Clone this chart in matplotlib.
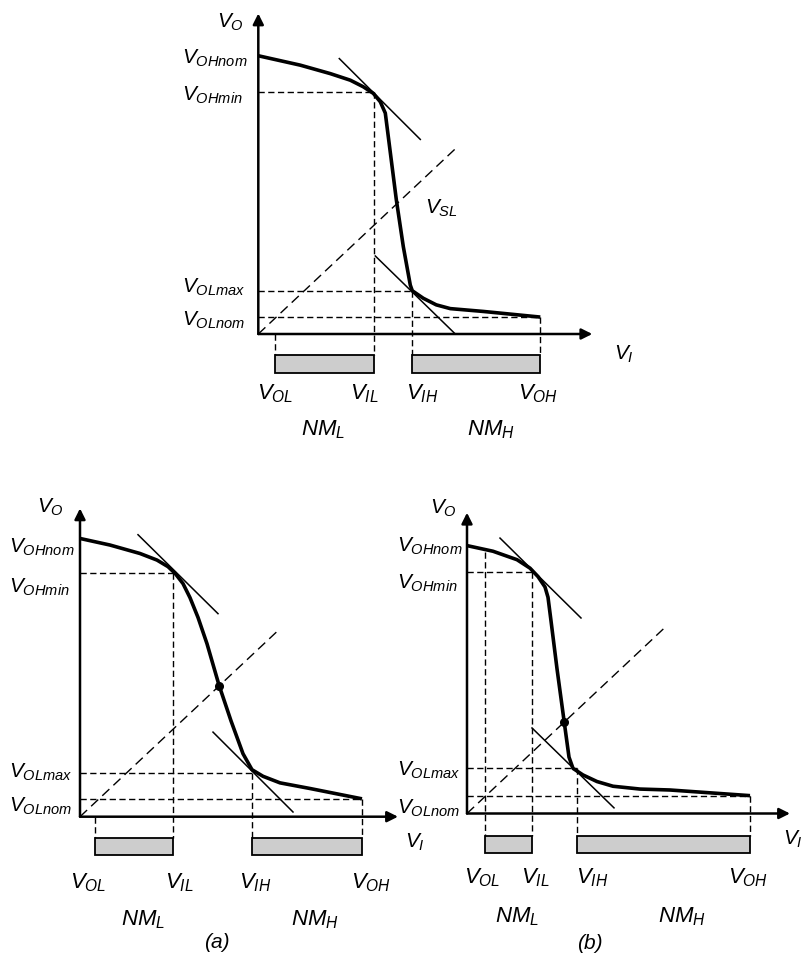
import matplotlib
matplotlib.use('Agg')
import matplotlib.pyplot as plt
from matplotlib.patches import Rectangle

plt.rcParams['font.family'] = ['Liberation Sans', 'DejaVu Sans']
plt.rcParams['mathtext.fontset'] = 'custom'
plt.rcParams['mathtext.it'] = 'Liberation Sans:italic'
plt.rcParams['mathtext.rm'] = 'Liberation Sans:italic'
plt.rcParams['mathtext.default'] = 'it'

W, H = 803, 956

# ---------------- data ----------------
level_labels = [r'$V_{OHnom}$', r'$V_{OHmin}$', r'$V_{OLmax}$', r'$V_{OLnom}$']
input_labels = [r'$V_{OL}$', r'$V_{IL}$', r'$V_{IH}$', r'$V_{OH}$']
margin_labels = [r'$NM_L$', r'$NM_H$']

# top: generic transfer characteristic
top_vin = [0.00, 0.42, 0.72, 0.92, 1.05, 1.15, 1.22, 1.27, 1.38, 1.45,
           1.52, 1.54, 1.65, 1.78, 1.92, 2.25, 2.82]
top_vout = [2.96, 2.86, 2.77, 2.70, 2.63, 2.56, 2.47, 2.35, 1.43, 0.93,
            0.52, 0.46, 0.38, 0.31, 0.27, 0.24, 0.18]
top_levels = [2.96, 2.57, 0.46, 0.18]      # VOHnom, VOHmin, VOLmax, VOLnom
top_inputs = [0.17, 1.16, 1.54, 2.82]      # VOL, VIL, VIH, VOH
top_tan1 = ([0.81, 1.62], [2.93, 2.07])
top_tan2 = ([1.17, 1.97], [0.83, 0.00])
top_diag_end = 1.97
top_vsl = None

# (a)
a_vin = [0.00, 0.30, 0.60, 0.77, 0.88, 0.95, 1.03, 1.10, 1.18, 1.27, 1.39, 1.51,
         1.63, 1.72, 1.83, 2.00, 2.30, 2.82]
a_vout = [2.96, 2.89, 2.80, 2.73, 2.66, 2.59, 2.48, 2.33, 2.12, 1.84, 1.40, 1.02,
          0.67, 0.50, 0.43, 0.36, 0.30, 0.19]
a_levels = [2.96, 2.59, 0.47, 0.19]
a_inputs = [0.15, 0.93, 1.72, 2.82]
a_tan1 = ([0.58, 1.38], [3.00, 2.16])
a_tan2 = ([1.33, 2.13], [0.90, 0.05])
a_diag_end = 1.97
a_vsl = 1.39

# (b)
b_vin = [0.00, 0.26, 0.50, 0.63, 0.71, 0.78, 0.81, 0.84, 0.90, 0.97, 1.02,
         1.06, 1.16, 1.30, 1.46, 1.73, 2.03, 2.83]
b_vout = [2.85, 2.79, 2.70, 2.61, 2.52, 2.41, 2.30, 2.05, 1.54, 0.99, 0.60,
          0.48, 0.41, 0.34, 0.29, 0.26, 0.25, 0.19]
b_levels = [2.85, 2.57, 0.48, 0.19]
b_inputs = [0.18, 0.65, 1.10, 2.83]
b_tan1 = ([0.33, 1.14], [2.93, 2.08])
b_tan2 = ([0.65, 1.47], [0.91, 0.06])
b_diag_end = 1.98
b_vsl = 0.97

# ---------------- layout ----------------
SX, SY = 100.0, 94.0   # pixels per unit

fig = plt.figure(figsize=(W / 100, H / 100), dpi=100)
fig.patch.set_facecolor('white')


def make_ax(ox, oy, xlim, ylim):
    left = ox + xlim[0] * SX
    right = ox + xlim[1] * SX
    top = oy - ylim[1] * SY
    bottom = oy - ylim[0] * SY
    ax = fig.add_axes([left / W, 1 - bottom / H, (right - left) / W, (bottom - top) / H])
    ax.set_xlim(xlim)
    ax.set_ylim(ylim)
    ax.axis('off')
    return ax


FS = 15
DASH = (0, (4.5, 2.5))


def draw_panel(ax, vin, vout, levels, inputs, tan1, tan2, diag_end, vsl, L):
    kw = dict(clip_on=False)
    ax.annotate('', xy=(L['xtip'], 0), xytext=(0, 0),
                arrowprops=dict(arrowstyle='-|>', lw=1.8, color='black',
                                mutation_scale=16, shrinkA=0, shrinkB=0))
    ax.annotate('', xy=(0, L['ytip']), xytext=(0, 0),
                arrowprops=dict(arrowstyle='-|>', lw=1.8, color='black',
                                mutation_scale=16, shrinkA=0, shrinkB=0))
    vohnom, vohmin, volmax, volnom = levels
    vol, vil, vih, voh = inputs
    bt, bb = L['bar']
    dk = dict(color='black', lw=1.0, ls=DASH, **kw)
    ax.plot([0, vil], [vohmin, vohmin], **dk)
    ax.plot([0, vih], [volmax, volmax], **dk)
    ax.plot([0, voh], [volnom, volnom], **dk)
    ax.plot([vil, vil], [vohmin, bt], **dk)
    ax.plot([vih, vih], [volmax, bt], **dk)
    ax.plot([voh, voh], [volnom, bt], **dk)
    ax.plot([vol, vol], [L['vol_top'], bt], **dk)
    ax.plot([0, diag_end], [0, diag_end], color='black', lw=1.0,
            ls=(0, (7, 4)), **kw)
    ax.plot(tan1[0], tan1[1], color='black', lw=1.1, **kw)
    ax.plot(tan2[0], tan2[1], color='black', lw=1.1, **kw)
    ax.plot(vin, vout, color='black', lw=2.6, solid_joinstyle='round',
            solid_capstyle='butt', **kw)
    if vsl is not None:
        ax.plot([vsl], [vsl], 'o', color='black', ms=5.5, **kw)
    for x0, x1 in [(vol, vil), (vih, voh)]:
        ax.add_patch(Rectangle((x0, bb), x1 - x0, bt - bb, facecolor='#cdcdcd',
                               edgecolor='black', lw=1.3, clip_on=False))
    for lab, lv, off in zip(level_labels, levels, L['lev_off']):
        ax.text(L['lev_x'], lv - off / SY, lab, fontsize=FS, ha='left', va='center')
    for lab, xv, off in zip(input_labels, inputs, L['in_off']):
        ax.text(xv + off / SX, L['in_y'], lab, fontsize=FS + 1, ha='center', va='center')
    for lab, xv in zip(margin_labels, L['nm_x']):
        ax.text(xv, L['nm_y'], lab, fontsize=FS + 1, ha='center', va='center')
    ax.text(L['vo'][0], L['vo'][1], r'$V_O$', fontsize=FS, ha='center', va='center')
    ax.text(L['vi'][0], L['vi'][1], r'$V_I$', fontsize=FS, ha='left', va='center')
    if L.get('cap'):
        ax.text(L['cap'][0], L['cap'][1], L['cap'][2], fontsize=FS, ha='center',
                va='center', style='italic')


# top panel
ax_t = make_ax(258.3, 334, (-2.5, 3.8), (-1.2, 3.55))
draw_panel(ax_t, top_vin, top_vout, top_levels, top_inputs, top_tan1, top_tan2,
           top_diag_end, top_vsl,
           dict(xtip=3.34, ytip=3.41, bar=(-0.22, -0.41), vol_top=0,
                lev_off=[3, 3, -3, 3], lev_x=-0.76,
                in_off=[0, -10, 10, -2], in_y=-0.63,
                nm_x=[0.65, 2.33], nm_y=-1.02,
                vo=(-0.28, 3.32), vi=(3.56, -0.22)))
ax_t.text(1.83, 1.34, r'$V_{SL}$', fontsize=FS, ha='center', va='center')

# panel (a)
ax_a = make_ax(80, 816.7, (-0.8, 3.4), (-1.45, 3.3))
draw_panel(ax_a, a_vin, a_vout, a_levels, a_inputs, a_tan1, a_tan2,
           a_diag_end, a_vsl,
           dict(xtip=3.18, ytip=3.28, bar=(-0.23, -0.41), vol_top=0,
                lev_off=[9, 14, 0, 8], lev_x=-0.71,
                in_off=[-7, 6, 3, 9], in_y=-0.705,
                nm_x=[0.63, 2.35], nm_y=-1.10,
                vo=(-0.30, 3.29), vi=(3.25, -0.27),
                cap=(1.37, -1.34, '(a)')))

# panel (b)
ax_b = make_ax(467, 813.5, (-0.6, 3.36), (-1.45, 3.3))
draw_panel(ax_b, b_vin, b_vout, b_levels, b_inputs, b_tan1, b_tan2,
           b_diag_end, b_vsl,
           dict(xtip=3.23, ytip=3.20, bar=(-0.24, -0.42), vol_top=b_levels[0] - 0.07,
                lev_off=[1, 11, 2, 13], lev_x=-0.70,
                in_off=[-3, 3, 15, -2], in_y=-0.685,
                nm_x=[0.50, 2.15], nm_y=-1.10,
                vo=(-0.24, 3.25), vi=(3.16, -0.28),
                cap=(1.23, -1.38, '(b)')))

fig.savefig('out.png', dpi=100, facecolor='white')
